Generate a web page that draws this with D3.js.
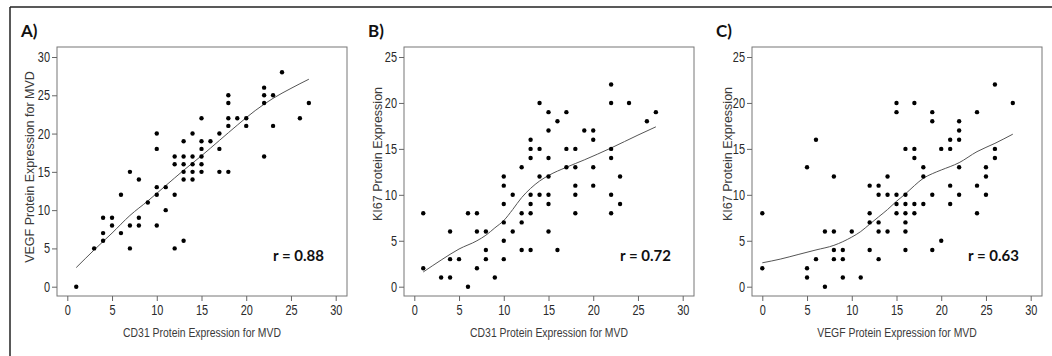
<!DOCTYPE html>
<html>
<head>
<meta charset="utf-8">
<script src="https://cdn.jsdelivr.net/npm/d3@7"></script>
<style>
  html, body { margin: 0; padding: 0; background: #fff; }
  svg { display: block; }
</style>
</head>
<body>
<div id="chart"></div>
<script>
// scatter data: [x, y]
const cd31VsVegf = [
  [1,0],[3,5],[4,6],[4,7],[4,9],[5,8],[5,9],[6,7],[6,12],[7,5],[7,8],[7,15],[8,8],[8,9],[8,14],
  [9,11],[10,8],[10,12],[10,13],[10,18],[10,20],[11,10],[11,13],[12,5],[12,12],[12,16],[12,17],
  [13,6],[13,14],[13,15],[13,16],[13,17],[13,19],[14,14],[14,15],[14,16],[14,17],[14,20],
  [15,15],[15,16],[15,17],[15,18],[15,19],[15,22],[16,19],[17,15],[17,18],[17,20],
  [18,15],[18,21],[18,22],[18,24],[18,25],[19,22],[20,21],[20,22],[22,17],[22,24],[22,25],[22,26],
  [23,21],[23,25],[24,28],[26,22],[27,24]
];
const cd31VsKi67 = [
  [1,2],[1,8],[3,1],[4,1],[4,3],[4,6],[5,3],[6,0],[6,8],[7,2],[7,6],[7,8],[8,3],[8,4],[8,6],[9,1],
  [10,3],[10,5],[10,7],[10,9],[10,11],[10,12],[11,6],[11,10],[12,4],[12,7],[12,8],[12,13],
  [13,4],[13,8],[13,9],[13,10],[13,14],[13,15],[13,16],[14,10],[14,12],[14,15],[14,20],
  [15,6],[15,9],[15,10],[15,12],[15,14],[15,17],[15,19],[16,4],[16,18],[17,13],[17,15],[17,19],
  [18,8],[18,10],[18,11],[18,13],[18,15],[19,17],[20,11],[20,13],[20,16],[20,17],
  [22,8],[22,10],[22,14],[22,15],[22,20],[22,22],[23,9],[23,12],[24,20],[26,18],[27,19]
];
const vegfVsKi67 = [
  [0,2],[0,8],[5,1],[5,2],[5,13],[6,3],[6,16],[7,0],[7,6],[8,3],[8,4],[8,6],[8,12],[9,1],[9,3],[9,4],
  [10,6],[11,1],[12,4],[12,7],[12,8],[12,11],[13,3],[13,6],[13,7],[13,10],[13,11],[14,6],[14,10],[14,12],
  [15,8],[15,9],[15,10],[15,19],[15,20],[16,4],[16,6],[16,7],[16,8],[16,9],[16,10],[16,15],
  [17,8],[17,9],[17,14],[17,15],[17,20],[18,9],[18,12],[18,13],[19,4],[19,10],[19,18],[19,19],
  [20,5],[20,15],[21,9],[21,11],[21,15],[21,16],[22,10],[22,13],[22,16],[22,17],[22,18],
  [24,8],[24,11],[24,19],[25,10],[25,12],[25,13],[26,14],[26,15],[26,22],[28,20]
];

// fitted (smoothed) lines
const fitA = [[1,2.5],[3,4.8],[5,7.0],[7,9.3],[9,11.2],[11,13.2],[13,15.2],[15,17.1],[17,19.1],[19,21.1],[21,23.0],[23,24.6],[25,25.9],[27,27.1]];
const fitB = [[1,1.6],[3,2.9],[5,4.1],[7,5.0],[8,5.6],[9,6.4],[10,7.2],[11,8.4],[12,9.7],[13,10.7],[14,11.5],[15,12.1],[17,13.0],[19,13.8],[22,15.1],[25,16.5],[27,17.4]];
const fitC = [[0,2.6],[2,3.0],[4,3.5],[6,4.0],[8,4.5],[10,5.4],[11,6.0],[12,6.8],[13,7.6],[14,8.4],[15,9.3],[16,10.1],[17,11.0],[18,11.8],[19,12.3],[20,12.7],[22,13.5],[24,14.7],[26,15.6],[28,16.6]];

const xTicks = [0, 5, 10, 15, 20, 25, 30];
const yTicksA = [0, 5, 10, 15, 20, 25, 30];
const yTicksBC = [0, 5, 10, 15, 20, 25];

const panelLabels = ['A)', 'B)', 'C)'];
const xTitles = ['CD31 Protein Expression for MVD', 'CD31 Protein Expression for MVD', 'VEGF Protein Expression for MVD'];
const yTitles = ['VEGF Protein Expression for MVD', 'KI67 Protein Expression', 'KI67 Protein Expression'];
const rLabels = ['r = 0.88', 'r = 0.72', 'r = 0.63'];

const width = 1052, height = 356;
const sans = '"Liberation Sans", Arial, sans-serif';
const bold = 'Lato, "Open Sans", sans-serif';

// squeeze text horizontally to mimic a narrow face
function condense(sel, k) {
  sel.each(function() {
    const w = this.getComputedTextLength();
    d3.select(this).attr('textLength', w * k).attr('lengthAdjust', 'spacingAndGlyphs');
  });
}

const svg = d3.select('#chart').append('svg')
  .attr('width', width)
  .attr('height', height);

// outer frame (top + left only visible)
svg.append('line').attr('x1', 10).attr('x2', width).attr('y1', 7).attr('y2', 7)
  .attr('stroke', '#222').attr('stroke-width', 1.5);
svg.append('line').attr('x1', 10).attr('x2', 10).attr('y1', 7).attr('y2', height)
  .attr('stroke', '#222').attr('stroke-width', 1.5);

const panels = [
  { left: 57, data: cd31VsVegf, fit: fitA, yMax: 30, yTicks: yTicksA, yTitleX: 30, yTitleY: 167 },
  { left: 404, data: cd31VsKi67, fit: fitB, yMax: 25, yTicks: yTicksBC, yTitleX: 378, yTitleY: 154 },
  { left: 752, data: vegfVsKi67, fit: fitC, yMax: 25, yTicks: yTicksBC, yTitleX: 728, yTitleY: 154 }
];

const frameTop = 47, frameBottom = 296, frameW = 290;

panels.forEach((p, i) => {
  const x = d3.scaleLinear().domain([0, 30]).range([p.left + 10.3, p.left + 278.7]);
  const y = d3.scaleLinear().domain([0, p.yMax]).range([286.7, 57]);

  const g = svg.append('g');

  // panel letter
  g.append('text')
    .attr('x', p.left - 36)
    .attr('y', 37)
    .style('font-family', bold)
    .style('font-weight', 'bold')
    .style('font-size', '17px')
    .style('fill', '#111')
    .text(panelLabels[i]);

  // plot frame
  g.append('rect')
    .attr('x', p.left)
    .attr('y', frameTop)
    .attr('width', frameW)
    .attr('height', frameBottom - frameTop)
    .attr('fill', 'none')
    .attr('stroke', '#777')
    .attr('stroke-width', 1);

  // axes
  const xAxis = g.append('g')
    .attr('transform', `translate(0,${frameBottom})`)
    .call(d3.axisBottom(x).tickValues(xTicks).tickSize(5).tickPadding(4));
  const yAxis = g.append('g')
    .attr('transform', `translate(${p.left},0)`)
    .call(d3.axisLeft(y).tickValues(p.yTicks).tickSize(5).tickPadding(2));

  [xAxis, yAxis].forEach(ax => {
    ax.select('.domain').remove();
    ax.selectAll('line').attr('stroke', '#666');
    ax.selectAll('text')
      .style('font-family', sans)
      .style('font-size', '14px')
      .style('fill', '#2a2a2a')
      .call(condense, 0.78);
  });

  // axis titles
  g.append('text')
    .attr('x', p.left + frameW / 2)
    .attr('y', 337)
    .attr('text-anchor', 'middle')
    .style('font-family', sans)
    .style('font-size', '13px')
    .style('fill', '#3a3a3a')
    .text(xTitles[i])
    .call(condense, 0.8);

  g.append('text')
    .attr('transform', `translate(${p.yTitleX},${p.yTitleY}) rotate(-90)`)
    .attr('text-anchor', 'middle')
    .attr('dy', '0.35em')
    .style('font-family', sans)
    .style('font-size', '12.5px')
    .style('fill', '#3a3a3a')
    .text(yTitles[i]);

  // fitted line
  g.append('path')
    .datum(p.fit)
    .attr('fill', 'none')
    .attr('stroke', '#555')
    .attr('stroke-width', 1)
    .attr('d', d3.line().x(d => x(d[0])).y(d => y(d[1])).curve(d3.curveMonotoneX));

  // points
  g.selectAll('circle')
    .data(p.data)
    .enter()
    .append('circle')
    .attr('cx', d => x(d[0]))
    .attr('cy', d => y(d[1]))
    .attr('r', 2.2)
    .attr('fill', '#000');

  // correlation label
  g.append('text')
    .attr('x', p.left + 216)
    .attr('y', 261)
    .style('font-family', bold)
    .style('font-weight', 'bold')
    .style('font-size', '15px')
    .style('fill', '#111')
    .text(rLabels[i]);
});
</script>
</body>
</html>
